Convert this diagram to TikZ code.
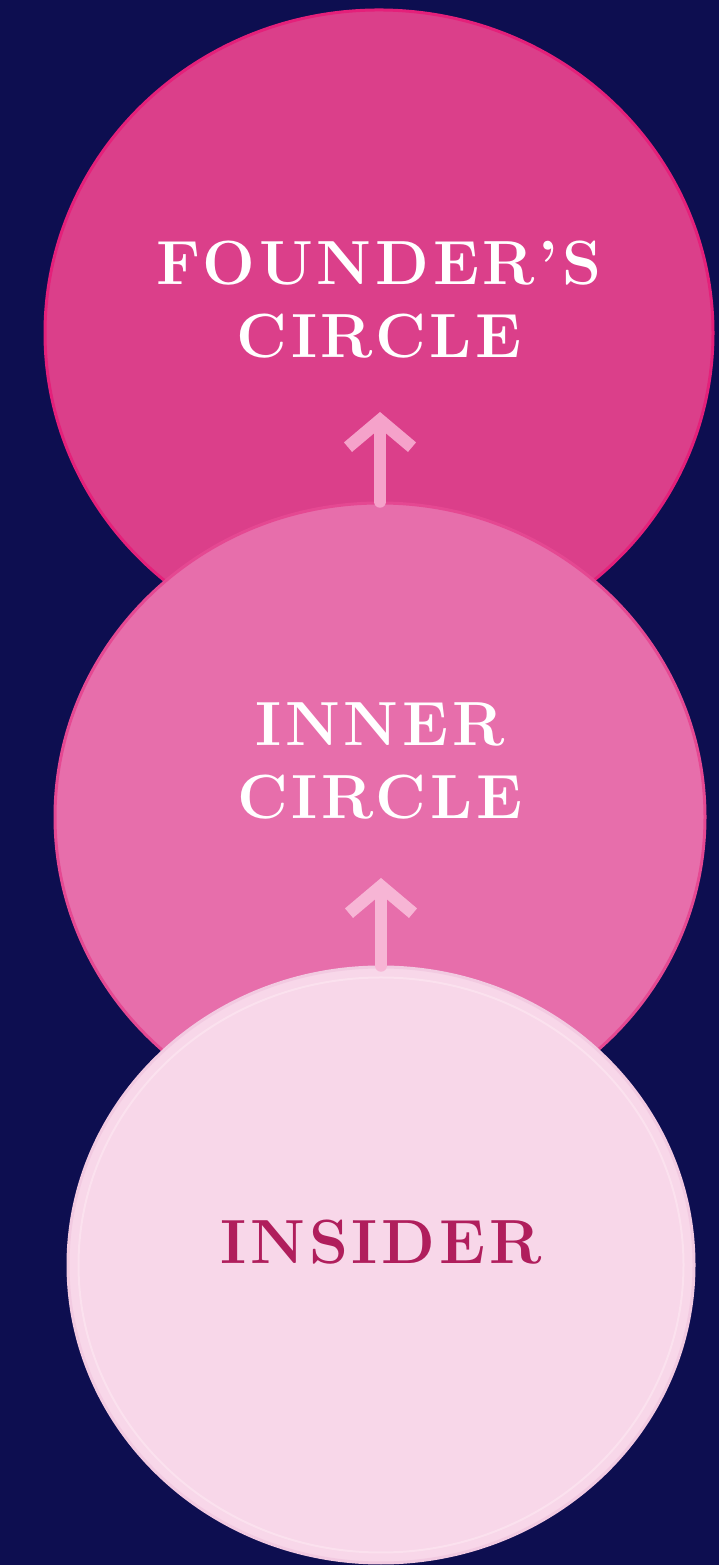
\documentclass[tikz,border=0pt]{standalone}
\usepackage{fontspec}
\newfontfamily\tierfont[LetterSpace=6, Ligatures=TeX]{Latin Modern Roman}
\usepackage{tikz}
\usetikzlibrary{shapes.geometric, arrows.meta, positioning}
\definecolor{nightnavy}{RGB}{13,14,80}
\definecolor{founderpink}{RGB}{219,63,138}
\definecolor{founderedge}{RGB}{228,32,122}
\definecolor{innerpink}{RGB}{231,110,171}
\definecolor{inneredge}{RGB}{229,72,146}
\definecolor{insiderpink}{RGB}{248,215,233}
\definecolor{insideredge}{RGB}{242,202,225}
\definecolor{insiderring}{RGB}{251,225,238}
\definecolor{arrowpink}{RGB}{245,162,202}
\definecolor{insidertext}{RGB}{176,30,92}

\begin{document}
\begin{tikzpicture}[
    tier/.style={ellipse, draw=#1edge, fill=#1pink, line width=0.6mm, inner sep=0pt},
    tiertext/.style={align=center, font=\tierfont\fontsize{35.5}{41.5}\selectfont\bfseries, text=white},
    uparrow/.style={-{Straight Barb[length=5.4mm, width=12.8mm]}, line width=2.5mm, draw=#1, line cap=round, line join=round}
]

% background and page size
\fill[nightnavy] (0,0) rectangle (14.38,31.30);
\useasboundingbox (0,0) rectangle (14.38,31.30);

\node[tier=founder, minimum width=13.36cm, minimum height=12.92cm] (founder) at (7.58,24.64) {};
\node[tiertext, above=0.66cm of founder.center, anchor=center] (foundertxt) {FOUNDER’S\\CIRCLE};
\coordinate (foundertip) at (7.60,23.06);

\node[tier=inner, minimum width=13.0cm, minimum height=12.56cm] (inner) at (7.60,14.96) {};
\node[tiertext, above=1.12cm of inner.center, anchor=center] (innertxt) {INNER\\CIRCLE};
\coordinate (innertip) at (7.62,13.74);

\node[tier=insider, minimum width=12.52cm, minimum height=11.92cm] (insider) at (7.62,6.00) {};
\draw[insiderring, line width=0.4mm] (insider.center) ellipse [x radius=6.05cm, y radius=5.75cm];
\node[tiertext, text=insidertext, above=0.46cm of insider.center, anchor=center] (insidertxt) {INSIDER};

\draw[uparrow=arrowpink] (inner.north) -- (foundertip);
\draw[uparrow=arrowpink!80!white] (insider.north) -- (innertip);

\end{tikzpicture}
\end{document}
